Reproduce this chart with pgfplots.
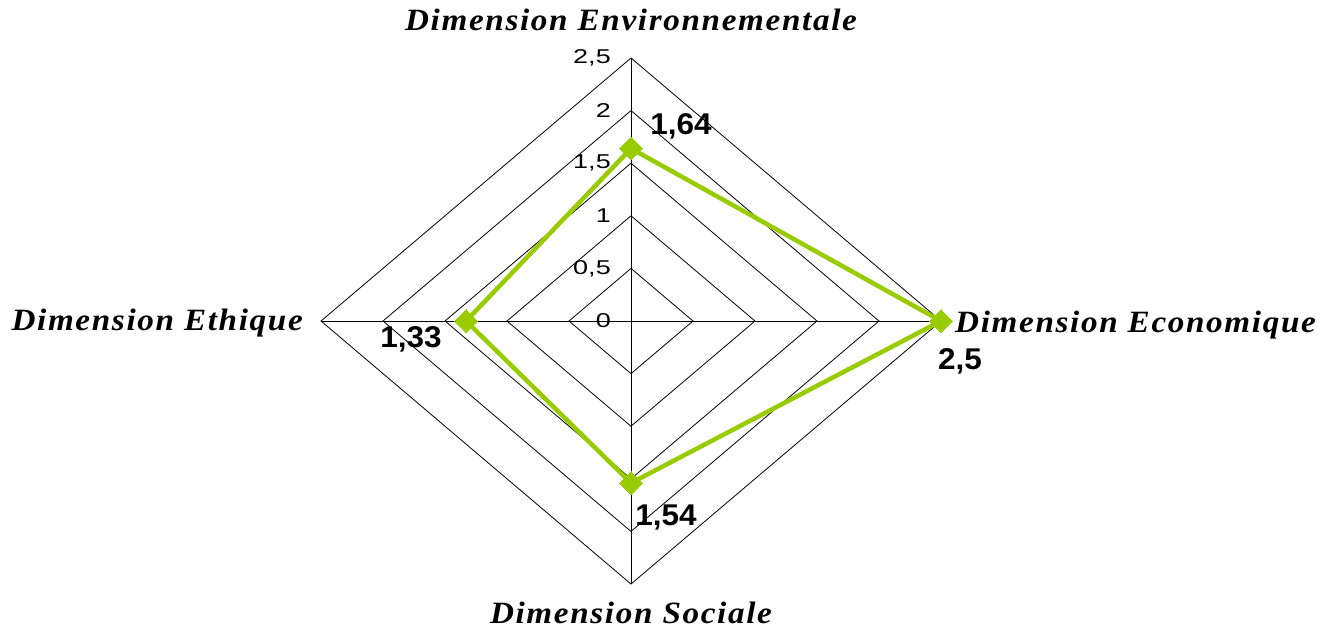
\documentclass[border=0pt]{standalone}
\usepackage{fontspec}
\setmainfont{Liberation Sans}
\newfontfamily\labfont{Liberation Serif}[LetterSpace=5]
\usepackage{pgfplots}
\pgfplotsset{compat=1.18}
\definecolor{lime}{RGB}{153,204,0}
\begin{document}
\begin{tikzpicture}
\begin{axis}[
  scale only axis, width=1322pt, height=632pt,
  xmin=-5.0887, xmax=5.5726, ymin=-2.9563, ymax=3.0513,
  hide axis, clip=false,
]
\path (rel axis cs:0,0) rectangle (rel axis cs:1,1);
% grid
\addplot[black, line width=0.8pt] coordinates {(0,0.5)(0.5,0)(0,-0.5)(-0.5,0)(0,0.5)};
\addplot[black, line width=0.8pt] coordinates {(0,1)(1,0)(0,-1)(-1,0)(0,1)};
\addplot[black, line width=0.8pt] coordinates {(0,1.5)(1.5,0)(0,-1.5)(-1.5,0)(0,1.5)};
\addplot[black, line width=0.8pt] coordinates {(0,2)(2,0)(0,-2)(-2,0)(0,2)};
\addplot[black, line width=0.8pt] coordinates {(0,2.5)(2.5,0)(0,-2.5)(-2.5,0)(0,2.5)};
\addplot[black, line width=0.8pt] coordinates {(0,2.5)(0,-2.5)};
\addplot[black, line width=0.8pt] coordinates {(-2.5,0)(2.5,0)};
% data
\addplot[lime, line width=4.5pt, line join=round, mark=square*, mark size=8pt,
  mark options={rotate=45, line width=0pt, fill=lime, draw=lime}]
  coordinates {(0,1.64)(2.5,0)(0,-1.54)(-1.33,0)(0,1.64)};
% tick labels
\foreach \v/\t in {0/0,0.5/{0,5},1/1,1.5/{1,5},2/2,2.5/{2,5}}{
  \edef\tmp{\noexpand\node[anchor=east, font=\noexpand\fontsize{20}{20}\noexpand\selectfont, xscale=1.35, inner sep=0pt] at (axis cs:-0.161,\v) {\t};}
  \tmp
}
% value labels
\node[font=\bfseries\fontsize{30}{30}\selectfont, xscale=1.05, inner sep=0pt] at (axis cs:0.403,1.854) {1,64};
\node[font=\bfseries\fontsize{30}{30}\selectfont, xscale=1.05, inner sep=0pt] at (axis cs:2.653,-0.380) {2,5};
\node[font=\bfseries\fontsize{30}{30}\selectfont, xscale=1.05, inner sep=0pt] at (axis cs:0.282,-1.863) {1,54};
\node[font=\bfseries\fontsize{30}{30}\selectfont, xscale=1.05, inner sep=0pt] at (axis cs:-1.774,-0.171) {1,33};
% axis labels
\tikzset{lab/.style={font=\labfont\bfseries\itshape\fontsize{31}{31}\selectfont, inner sep=0pt, xscale=1.07}}
\node[lab, anchor=base] at (axis cs:0,2.757) {Dimension Environnementale};
\node[lab, anchor=base west] at (axis cs:2.613,-0.1046) {Dimension Economique};
\node[lab, anchor=base east] at (axis cs:-2.645,-0.0856) {Dimension Ethique};
\node[lab, anchor=base] at (axis cs:0,-2.871) {Dimension Sociale};
\end{axis}
\end{tikzpicture}
\end{document}
